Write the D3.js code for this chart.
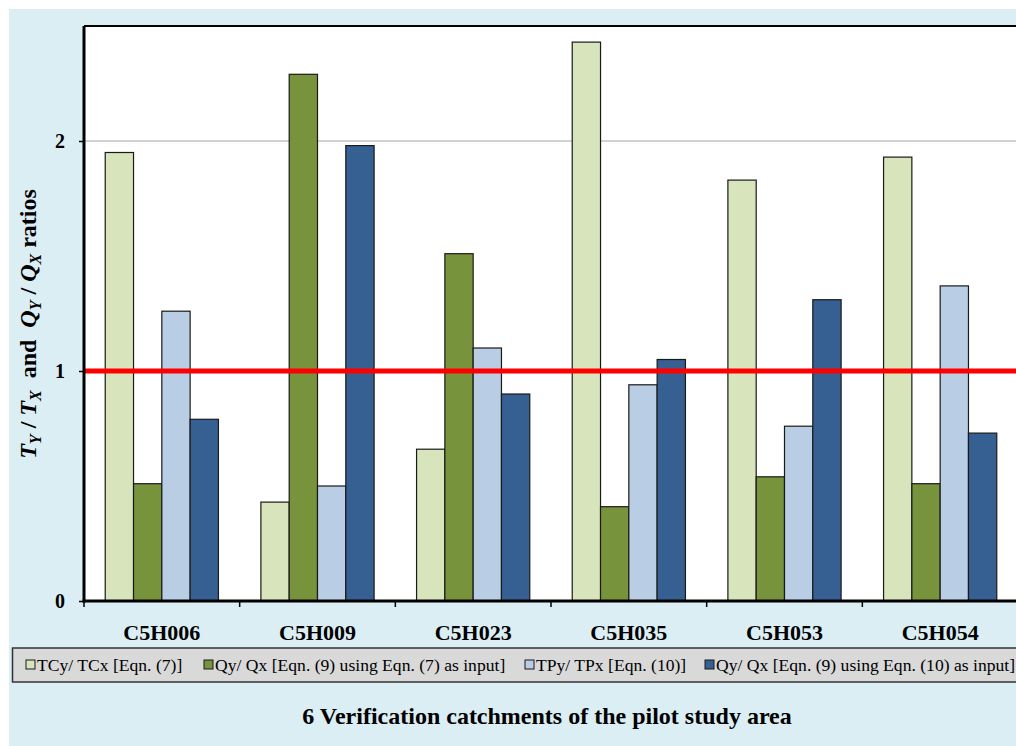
<!DOCTYPE html>
<html>
<head>
<meta charset="utf-8">
<script src="https://cdn.jsdelivr.net/npm/d3@7"></script>
<style>
  html, body { margin: 0; padding: 0; background: #ffffff; }
  svg { display: block; }
  text { font-family: "Liberation Serif", "Times New Roman", serif; }
</style>
</head>
<body>
<svg id="chart" width="1016" height="746"></svg>
<script>
// ---- Data ----
const categories = ["C5H006", "C5H009", "C5H023", "C5H035", "C5H053", "C5H054"];
const seriesNames = [
  "TCy/ TCx [Eqn. (7)]",
  "Qy/ Qx [Eqn. (9) using Eqn. (7) as input]",
  "TPy/ TPx [Eqn. (10)]",
  "Qy/ Qx [Eqn. (9) using Eqn. (10) as input]"
];
const tcRatio   = [1.95, 0.43, 0.66, 2.43, 1.83, 1.93];
const qyEqn7    = [0.51, 2.29, 1.51, 0.41, 0.54, 0.51];
const tpRatio   = [1.26, 0.50, 1.10, 0.94, 0.76, 1.37];
const qyEqn10   = [0.79, 1.98, 0.90, 1.05, 1.31, 0.73];
const seriesValues = [tcRatio, qyEqn7, tpRatio, qyEqn10];
const seriesColors = ["#d8e4bc", "#77933c", "#b9cde5", "#366092"];
const yTicks = [0, 1, 2];
const refLine = 1;
const xTitle = "6 Verification catchments of the pilot study area";

// ---- Layout ----
const svg = d3.select("#chart");
const W = 1016, H = 746;
const plot = { left: 84, right: 1018, top: 26, bottom: 601 };

svg.append("rect").attr("x", 0).attr("y", 0).attr("width", W).attr("height", H).attr("fill", "#ffffff");
svg.append("rect").attr("x", 9).attr("y", 9).attr("width", W - 9).attr("height", H - 9).attr("fill", "#dbeef4");

const x0 = d3.scaleBand().domain(categories).range([plot.left, plot.right]).paddingInner(0).paddingOuter(0);
const x1 = d3.scaleBand().domain(d3.range(seriesNames.length)).range([0, x0.bandwidth()]).paddingInner(0).paddingOuter(0.75);
const y = d3.scaleLinear().domain([0, 2.5]).range([plot.bottom, plot.top]);

// plot area
svg.append("rect").attr("x", plot.left).attr("y", plot.top)
  .attr("width", plot.right - plot.left).attr("height", plot.bottom - plot.top)
  .attr("fill", "#ffffff");

// gridlines
svg.append("g").selectAll("line").data(yTicks.filter(t => t > 0)).join("line")
  .attr("x1", plot.left).attr("x2", plot.right)
  .attr("y1", d => y(d)).attr("y2", d => y(d))
  .attr("stroke", "#a6a6a6").attr("stroke-width", 1.2);

// bars
const groups = svg.append("g").selectAll("g").data(categories).join("g")
  .attr("transform", d => `translate(${x0(d)},0)`);
groups.selectAll("rect")
  .data((c, ci) => seriesValues.map((vals, si) => ({ si, v: vals[ci] })))
  .join("rect")
  .attr("x", d => x1(d.si))
  .attr("y", d => y(d.v))
  .attr("width", x1.bandwidth())
  .attr("height", d => y(0) - y(d.v))
  .attr("fill", d => seriesColors[d.si])
  .attr("stroke", "#1a1a1a").attr("stroke-width", 1.2);

// reference line at 1
svg.append("line").attr("x1", plot.left).attr("x2", plot.right)
  .attr("y1", y(refLine)).attr("y2", y(refLine))
  .attr("stroke", "#ff0000").attr("stroke-width", 5);

// top border
svg.append("line").attr("x1", plot.left).attr("x2", plot.right)
  .attr("y1", plot.top).attr("y2", plot.top)
  .attr("stroke", "#000").attr("stroke-width", 2);

// y axis
const yAxis = svg.append("g").attr("transform", `translate(${plot.left},0)`)
  .call(d3.axisLeft(y).tickValues(yTicks).tickSize(5).tickPadding(14).tickFormat(d3.format("d")));
yAxis.select(".domain").attr("stroke", "#000").attr("stroke-width", 3)
  .attr("d", `M0,${plot.top}V${plot.bottom + 1.5}`);
yAxis.selectAll(".tick line").attr("stroke", "#000").attr("stroke-width", 1.5);
yAxis.selectAll(".tick text").attr("font-family", "Liberation Serif").attr("font-weight", "bold")
  .attr("font-size", 20).attr("fill", "#000");

// x axis (ticks at category boundaries)
svg.append("line").attr("x1", plot.left - 1.5).attr("x2", plot.right)
  .attr("y1", plot.bottom).attr("y2", plot.bottom)
  .attr("stroke", "#000").attr("stroke-width", 3);
const boundaries = categories.map(c => x0(c)).concat([plot.right]);
svg.append("g").selectAll("line").data(boundaries).join("line")
  .attr("x1", d => d).attr("x2", d => d)
  .attr("y1", plot.bottom).attr("y2", plot.bottom + 6)
  .attr("stroke", "#000").attr("stroke-width", 1.5);
svg.append("g").selectAll("text").data(categories).join("text")
  .attr("x", d => x0(d) + x0.bandwidth() / 2)
  .attr("y", 640)
  .attr("text-anchor", "middle")
  .attr("font-weight", "bold").attr("font-size", 22).attr("fill", "#000")
  .text(d => d);

// y axis title
const yt = svg.append("text")
  .attr("transform", "translate(36,324) rotate(-90)")
  .attr("text-anchor", "middle")
  .attr("font-weight", "bold").attr("font-size", 24).attr("fill", "#000");
const parts = [
  { t: "T", it: true }, { t: "Y", it: true, sub: true }, { t: " / " },
  { t: "T", it: true }, { t: "X", it: true, sub: true }, { t: "  and  " },
  { t: "Q", it: true }, { t: "Y", it: true, sub: true }, { t: " / " },
  { t: "Q", it: true }, { t: "X", it: true, sub: true }, { t: " ratios" }
];
parts.forEach((p, i) => {
  const ts = yt.append("tspan").text(p.t).attr("xml:space", "preserve");
  if (p.it) ts.attr("font-style", "italic");
  if (p.sub) ts.attr("font-size", 16).attr("dy", 5);
  else if (i > 0 && parts[i - 1].sub) ts.attr("dy", -5);
});

// legend (the reference crops the last entry at the right edge)
svg.append("rect").attr("x", 12.5).attr("y", 648).attr("width", W).attr("height", 34)
  .attr("fill", "#d9d9d9").attr("stroke", "#333333").attr("stroke-width", 1.5);
const legendX = [26, 204, 525, 705];
const lg = svg.append("g").selectAll("g").data(seriesNames).join("g")
  .attr("transform", (d, i) => `translate(${legendX[i]},0)`);
lg.append("rect").attr("x", 0).attr("y", 660).attr("width", 9).attr("height", 9)
  .attr("fill", (d, i) => seriesColors[i]).attr("stroke", "#1a1a1a").attr("stroke-width", 1);
lg.append("text").attr("x", 11).attr("y", 671)
  .attr("font-size", 17.6).attr("fill", "#000")
  .text(d => d);

// x title
svg.append("text").attr("x", 547).attr("y", 724).attr("text-anchor", "middle")
  .attr("font-weight", "bold").attr("font-size", 24).attr("fill", "#000")
  .text(xTitle);
</script>
</body>
</html>
